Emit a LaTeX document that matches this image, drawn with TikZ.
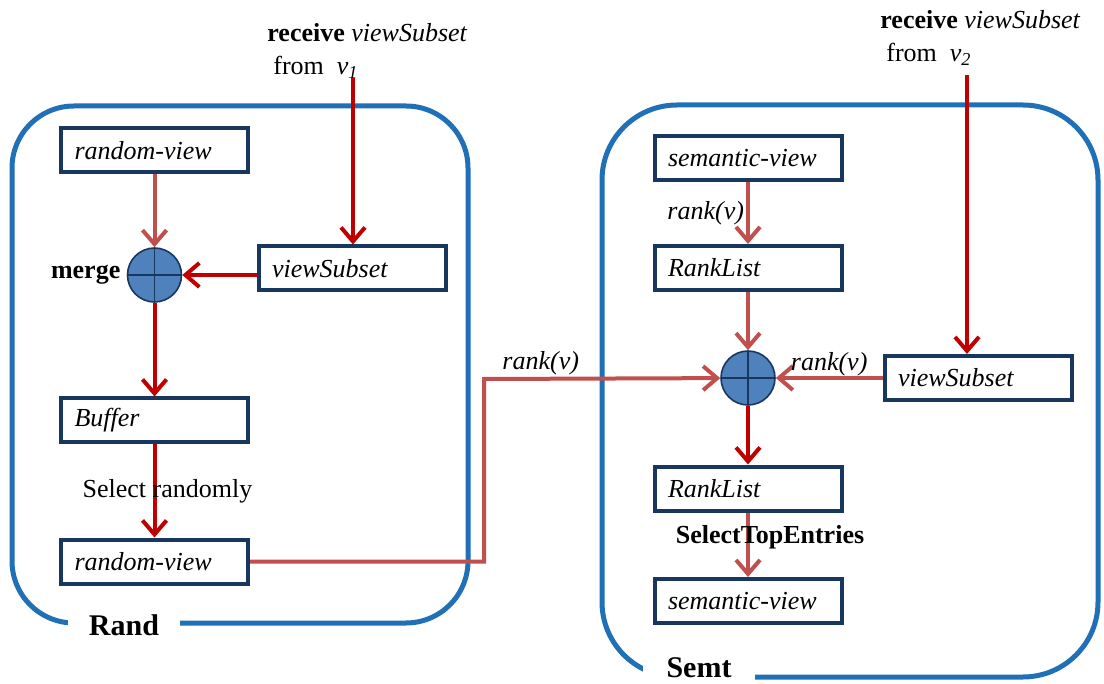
\documentclass[tikz,border=0pt]{standalone}
\usepackage{fontspec}
\setmainfont{Liberation Serif}
\usetikzlibrary{arrows.meta}
\definecolor{frameblue}{RGB}{31,112,182}
\definecolor{boxnavy}{RGB}{23,55,94}
\definecolor{darkred}{RGB}{192,0,0}
\definecolor{softred}{RGB}{192,80,77}
\definecolor{sumblue}{RGB}{79,129,189}
\newcommand{\fs}{\fontsize{13pt}{16.5pt}\selectfont}

\begin{document}
\begin{tikzpicture}[x=0.5pt,y=-0.5pt,
  every node/.style={font=\fs},
  container/.style={draw=frameblue, line width=2.5pt},
  viewbox/.style={draw=boxnavy, line width=2pt, fill=white, font=\fs\itshape, text width=80pt, inner xsep=6.75pt, minimum height=22pt, align=left},
  sum/.style={circle, draw=boxnavy, line width=0.8pt, fill=sumblue, minimum size=27pt, inner sep=0pt,
    path picture={\draw[boxnavy, line width=0.8pt] (path picture bounding box.north) -- (path picture bounding box.south) (path picture bounding box.west) -- (path picture bounding box.east);}},
  hardarr/.style={draw=darkred, line width=2pt, -{Straight Barb[length=7pt,width=12pt]}},
  softarr/.style={draw=softred, line width=2pt, -{Straight Barb[length=7pt,width=12pt]}},
  boxlabel/.style={fill=white, font=\fontsize{15pt}{18pt}\selectfont\bfseries, minimum width=56pt, inner ysep=1pt}
]
\useasboundingbox (0,0) rectangle (1104,684);

\draw[container, rounded corners=31pt] (12,106) rectangle (468,623);
\draw[container, rounded corners=37.5pt] (602,105) rectangle (1098,677);
\node[boxlabel] (rand) at (124,625) {Rand};
\node[boxlabel] (semt) at (699,668) {Semt};

\node[anchor=north west, inner sep=0pt, align=left] (recv1) at (267,23) {\textbf{receive} \textit{viewSubset}\\\hspace{3pt}from\ \ \textit{v}\textsubscript{\textit{1}}};
\node[anchor=north west, inner sep=0pt, align=left] (recv2) at (880,10) {\textbf{receive} \textit{viewSubset}\\\hspace{3pt}from\ \ \textit{v}\textsubscript{\textit{2}}};
\coordinate (in1) at (353,78);
\coordinate (in2) at (967,75);
\coordinate (jog) at (484,379);

\node[viewbox] (rv1) at (154.5,150.5) {random-view};
\node[sum] (sum1) at (154.5,275) {};
\node[anchor=east, inner sep=3pt, font=\fs\bfseries] (mergetxt) at (sum1.west) {merge};
\node[viewbox] (vs1) at (352,268.5) {viewSubset};
\node[viewbox] (buf) at (154.5,420.5) {Buffer};
\node[viewbox] (rv2) at (154.5,561.5) {random-view};

\node[viewbox] (sv1) at (748,158) {semantic-view};
\node[viewbox] (rl1) at (748,268) {RankList};
\node[sum] (sum2) at (748,378) {};
\node[viewbox] (vs2) at (978,378) {viewSubset};
\node[viewbox] (rl2) at (748,488.5) {RankList};
\node[viewbox] (sv2) at (748,601) {semantic-view};

\draw[softarr] (rv1) -- (sum1);
\draw[hardarr] (vs1.west |- sum1) -- (sum1);
\draw[hardarr] (sum1) -- (buf);
\draw[hardarr] (buf) -- node[xshift=6.5pt] (selrand) {Select randomly} (rv2);
\draw[hardarr] (in1) -- (in1 |- vs1.north);

\draw[softarr] (rv2.east) -| (jog) -- node[pos=0.24, above, inner sep=1pt] (rank1) {\textit{rank(v)}} (sum2);
\draw[softarr] (sv1) -- node[left, inner sep=1pt] (rank2) {\textit{rank(v)}} (rl1);
\draw[softarr] (rl1) -- (sum2);
\draw[softarr] (vs2) -- node[above, inner sep=0pt] (rank3) {\textit{rank(v)}} (sum2);
\draw[hardarr] (in2) -- (in2 |- vs2.north);
\draw[hardarr] (sum2) -- (rl2);
\draw[softarr] (rl2) -- node[xshift=11pt, yshift=4pt, font=\fs\bfseries] (seltop) {SelectTopEntries} (sv2);
\end{tikzpicture}
\end{document}
